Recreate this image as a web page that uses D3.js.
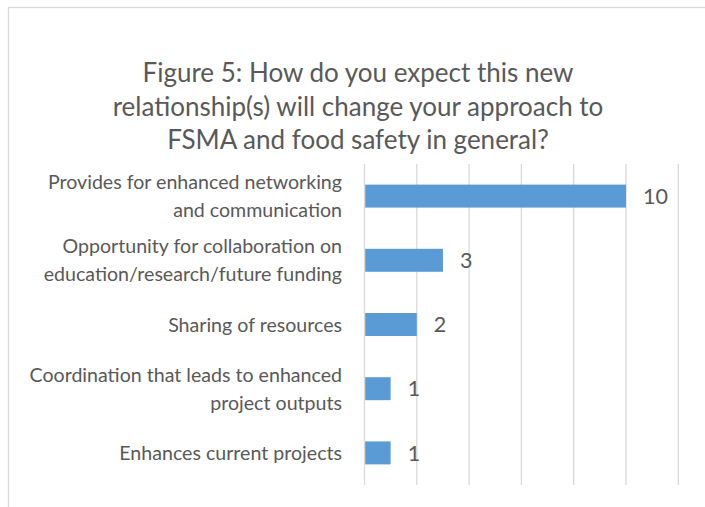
<!DOCTYPE html>
<meta charset="utf-8">
<title>Figure 5</title>
<style>
  body { margin: 0; background: #fff; }
  svg { font-family: Lato, "Open Sans", sans-serif; }
  .grid line { stroke: #d9d9d9; stroke-width: 1.3; }
  .bar { fill: #5b9bd5; }
  text { fill: #595959; }
</style>
<body>
<script src="https://cdn.jsdelivr.net/npm/d3@7"></script>
<script>
  // chart data, top to bottom
  var categories = [
    "Provides for enhanced networking and communication",
    "Opportunity for collaboration on education/research/future funding",
    "Sharing of resources",
    "Coordination that leads to enhanced project outputs",
    "Enhances current projects"
  ];
  var labelLines = [
    ["Provides for enhanced networking", "and communication"],
    ["Opportunity for collaboration on", "education/research/future funding"],
    ["Sharing of resources"],
    ["Coordination that leads to enhanced", "project outputs"],
    ["Enhances current projects"]
  ];
  var values = [10, 3, 2, 1, 1];
  var xTicks = [0, 2, 4, 6, 8, 10, 12];
  var titleLines = [
    "Figure 5: How do you expect this new",
    "relationship(s) will change your approach to",
    "FSMA and food safety in general?"
  ];

  var width = 705, height = 507;
  var margin = {top: 164, right: 26.7, bottom: 22, left: 364.5};

  var svg = d3.select("body").append("svg")
      .attr("width", width)
      .attr("height", height);

  // chart area frame
  svg.append("rect")
      .attr("x", 8.5).attr("y", 7.5)
      .attr("width", 720).attr("height", 540)
      .attr("fill", "none")
      .attr("stroke", "#d9d9d9")
      .attr("stroke-width", 1.3);

  svg.append("text")
      .attr("text-anchor", "middle")
      .style("font-size", "26px")
      .selectAll("tspan")
      .data(titleLines)
      .enter().append("tspan")
      .attr("x", 358)
      .attr("y", function(d, i) { return 82 + i * 33.7; })
      .text(function(d) { return d; });

  var x = d3.scaleLinear()
      .domain([0, 12])
      .range([margin.left, width - margin.right]);

  var y = d3.scaleBand()
      .domain(categories)
      .range([margin.top, height - margin.bottom])
      .paddingInner(0.642)
      .paddingOuter(0.321);

  svg.append("g")
      .attr("class", "grid")
      .selectAll("line")
      .data(xTicks)
      .enter().append("line")
      .attr("x1", function(d) { return x(d); })
      .attr("x2", function(d) { return x(d); })
      .attr("y1", margin.top)
      .attr("y2", height - margin.bottom);

  svg.append("g")
      .selectAll("rect")
      .data(values)
      .enter().append("rect")
      .attr("class", "bar")
      .attr("x", x(0) + 0.7)
      .attr("y", function(d, i) { return y(categories[i]); })
      .attr("width", function(d) { return x(d) - x(0) - 0.7; })
      .attr("height", y.bandwidth());

  // data labels
  svg.append("g")
      .selectAll("text")
      .data(values)
      .enter().append("text")
      .style("font-size", "21.5px")
      .attr("x", function(d) { return x(d) + 17; })
      .attr("y", function(d, i) { return y(categories[i]) + y.bandwidth() / 2; })
      .attr("dy", "0.36em")
      .text(function(d) { return d; });

  // category labels
  var labels = svg.append("g")
      .attr("text-anchor", "end")
      .style("font-size", "19.6px")
      .selectAll("text")
      .data(labelLines)
      .enter().append("text");

  labels.selectAll("tspan")
      .data(function(d, i) {
        var c = y(categories[i]) + y.bandwidth() / 2;
        var first = d.length > 1 ? c - 7 : c + 7;
        return d.map(function(line, j) { return {line: line, y: first + j * 28}; });
      })
      .enter().append("tspan")
      .attr("x", 342)
      .attr("y", function(d) { return d.y; })
      .text(function(d) { return d.line; });
</script>
</body>
</html>
